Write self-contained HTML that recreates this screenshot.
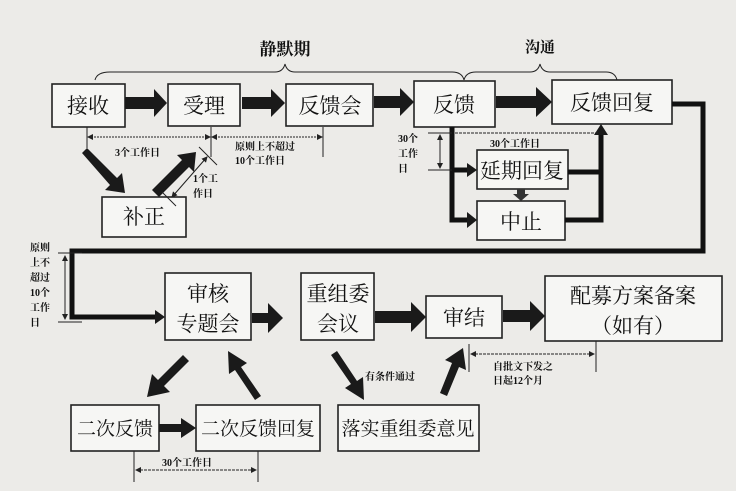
<!DOCTYPE html>
<html><head><meta charset="utf-8"><style>
html,body{margin:0;padding:0;background:#ecebe8;}
svg{display:block;}
text{font-family:"Liberation Serif","Noto Serif CJK SC","Noto Sans CJK SC",serif;fill:#111;}
.b{fill:#f6f6f4;stroke:#222;stroke-width:1.6;}
.t{font-size:21px;text-anchor:middle;}
.t2{font-size:19px;text-anchor:middle;}
.s{font-size:10px;font-weight:bold;}
.thin{stroke:#222;stroke-width:1;fill:none;}
.thk{stroke:#111;stroke-width:5;fill:none;}
</style></head><body>
<svg width="736" height="491" viewBox="0 0 736 491" xmlns="http://www.w3.org/2000/svg">
<defs>
<marker id="a" markerWidth="6" markerHeight="6" refX="5" refY="3" orient="auto" markerUnits="userSpaceOnUse"><path d="M0,0 L6,3 L0,6z" fill="#222"/></marker>
<marker id="a2" markerWidth="6" markerHeight="6" refX="1" refY="3" orient="auto" markerUnits="userSpaceOnUse"><path d="M6,0 L0,3 L6,6z" fill="#222"/></marker>
</defs>

<path class="thin" d="M95,80 Q97,72 110,72 L275,72 Q283,72 285,64 Q287,72 295,72 L452,72 Q462,72 464,80" stroke-width="1.2"/>
<path class="thin" d="M464,80 Q466,72 476,72 L530,72 Q538,72 540,64 Q542,72 550,72 L606,72 Q615,72 617,80" stroke-width="1.2"/>
<text x="285" y="55" font-size="17" font-weight="bold" text-anchor="middle">静默期</text>
<text x="540" y="52" font-size="15" font-weight="bold" text-anchor="middle">沟通</text>

<rect class="b" x="52" y="84" width="73" height="43"/><text class="t" x="88" y="113">接收</text>
<rect class="b" x="168" y="84" width="72" height="42"/><text class="t" x="204" y="113">受理</text>
<rect class="b" x="286" y="84" width="87" height="42"/><text class="t" x="330" y="113">反馈会</text>
<rect class="b" x="414" y="81" width="81" height="46"/><text class="t" x="454" y="112">反馈</text>
<rect class="b" x="552" y="80" width="120" height="44"/><text class="t" x="612" y="110">反馈回复</text>

<g fill="#1a1a1a">
<path d="M125,97 h29 v-8 l13,14 l-13,14 v-8 h-29z"/>
<path d="M242,97 h29 v-8 l14,14 l-14,14 v-8 h-29z"/>
<path d="M374,96 h26 v-8 l14,14 l-14,14 v-8 h-26z"/>
<path d="M496,96 h40 v-9 l16,15 l-16,15 v-9 h-40z"/>
</g>

<rect class="b" x="102" y="197" width="84" height="40"/><text class="t" x="144" y="224">补正</text>
<g fill="#1a1a1a">
<path d="M82,153 l5,-5 l30,30 l5,-5 l3,20 l-20,-3 l5,-5z"/>
<path d="M158,196 l-6,-6 l30,-30 l-5,-5 l19,-3 l-2,20 l-5,-5 l-30,30z"/>
</g>
<line class="thin" x1="87" y1="127" x2="87" y2="148"/>
<line class="thin" x1="211" y1="127" x2="211" y2="157"/>
<line class="thin" x1="323" y1="127" x2="323" y2="157"/>
<line class="thin" x1="88" y1="137" x2="210" y2="137" marker-start="url(#a2)" marker-end="url(#a)" stroke-dasharray="2,1"/>
<line class="thin" x1="212" y1="137" x2="322" y2="137" marker-start="url(#a2)" marker-end="url(#a)" stroke-dasharray="2,1"/>
<text class="s" x="115" y="156">3个工作日</text>
<text class="s" x="235" y="150">原则上不超过</text>
<text class="s" x="235" y="164">10个工作日</text>
<line class="thin" x1="199" y1="147" x2="217" y2="165"/>
<line class="thin" x1="162" y1="192" x2="176" y2="206"/>
<line class="thin" x1="207" y1="157" x2="172" y2="197" marker-start="url(#a2)" marker-end="url(#a)"/>
<text class="s" x="193" y="182">1个工</text>
<text class="s" x="193" y="197">作日</text>

<rect class="b" x="477" y="150" width="91" height="39"/><text class="t" x="522" y="178">延期回复</text>
<rect class="b" x="477" y="201" width="88" height="39"/><text class="t" x="521" y="229">中止</text>
<path class="thk" d="M452,127 V220 H468"/>
<path d="M452,170 H468" class="thk"/>
<path d="M467,163 l10,7 l-10,7z M467,212 l10,8 l-10,8z" fill="#1a1a1a"/>
<path class="thk" d="M568,172 H601 M565,220 H601 V133"/>
<path d="M594,135 l7,-11 l7,11z" fill="#1a1a1a"/>
<path d="M517,189 h8 v5 h4 l-8,7 l-8,-7 h4z" fill="#333"/>
<line class="thin" x1="455" y1="133" x2="598" y2="133" stroke-dasharray="3,1"/>
<text class="s" x="490" y="147">30个工作日</text>
<line class="thin" x1="428" y1="133" x2="452" y2="133"/>
<line class="thin" x1="428" y1="170" x2="452" y2="170"/>
<line class="thin" x1="440" y1="135" x2="440" y2="168" marker-start="url(#a2)" marker-end="url(#a)"/>
<text class="s" x="398" y="142">30个</text>
<text class="s" x="398" y="157">工作</text>
<text class="s" x="398" y="172">日</text>

<path class="thk" d="M672,104 H703 V251 H72 V317 H157"/>
<path d="M155,310 l10,7 l-10,7z" fill="#1a1a1a"/>
<line class="thin" x1="58" y1="253" x2="82" y2="253"/>
<line class="thin" x1="58" y1="322" x2="82" y2="322"/>
<line class="thin" x1="65" y1="256" x2="65" y2="319" marker-start="url(#a2)" marker-end="url(#a)"/>
<text class="s" x="30" y="251">原则</text>
<text class="s" x="30" y="266">上不</text>
<text class="s" x="30" y="281">超过</text>
<text class="s" x="30" y="296">10个</text>
<text class="s" x="30" y="311">工作</text>
<text class="s" x="30" y="326">日</text>

<rect class="b" x="165" y="273" width="86" height="67"/><text class="t" x="208" y="301">审核</text><text class="t" x="208" y="331">专题会</text>
<rect class="b" x="301" y="273" width="73" height="67"/><text class="t" x="338" y="301">重组委</text><text class="t" x="338" y="331">会议</text>
<rect class="b" x="426" y="296" width="76" height="42"/><text class="t" x="464" y="325">审结</text>
<rect class="b" x="545" y="276" width="177" height="65"/><text class="t" x="633" y="303">配募方案备案</text><text class="t" x="633" y="333">（如有）</text>
<g fill="#1a1a1a">
<path d="M252,313 h16 v-10 l15,15 l-15,15 v-10 h-16z"/>
<path d="M375,311 h36 v-9 l15,15 l-15,15 v-9 h-36z"/>
<path d="M503,310 h27 v-9 l15,15 l-15,15 v-9 h-27z"/>
<path d="M183,355 l6,6 l-25,25 l6,6 l-23,5 l5,-23 l6,6z"/>
<path d="M261,396 l-6,4 l-20,-30 l-6,4 l-1,-23 l19,12 l-6,4z"/>
<path d="M331,355 l6,-4 l20,30 l6,-4 l1,23 l-19,-12 l6,-4z"/>
<path d="M447,396 l-7,-3 l12,-30 l-7,-3 l18,-12 l3,22 l-7,-3z"/>
</g>
<text class="s" x="365" y="380" font-size="11">有条件通过</text>
<line class="thin" x1="469" y1="344" x2="469" y2="372"/>
<line class="thin" x1="596" y1="341" x2="596" y2="372"/>
<line class="thin" x1="471" y1="354" x2="594" y2="354" marker-start="url(#a2)" marker-end="url(#a)" stroke-dasharray="3,1"/>
<text class="s" x="493" y="370">自批文下发之</text>
<text class="s" x="493" y="384">日起12个月</text>

<rect class="b" x="71" y="405" width="88" height="46"/><text class="t2" x="115" y="435">二次反馈</text>
<rect class="b" x="196" y="405" width="124" height="46"/><text class="t2" x="258" y="435">二次反馈回复</text>
<rect class="b" x="338" y="405" width="141" height="46"/><text class="t2" x="408" y="435">落实重组委意见</text>
<path d="M159,424 h22 v-6 l15,10 l-15,10 v-6 h-22z" fill="#1a1a1a"/>
<line class="thin" x1="134" y1="451" x2="134" y2="482"/>
<line class="thin" x1="258" y1="451" x2="258" y2="482"/>
<line class="thin" x1="136" y1="470" x2="256" y2="470" marker-start="url(#a2)" marker-end="url(#a)" stroke-dasharray="3,1"/>
<text class="s" x="162" y="466">30个工作日</text>
</svg>
</body></html>
